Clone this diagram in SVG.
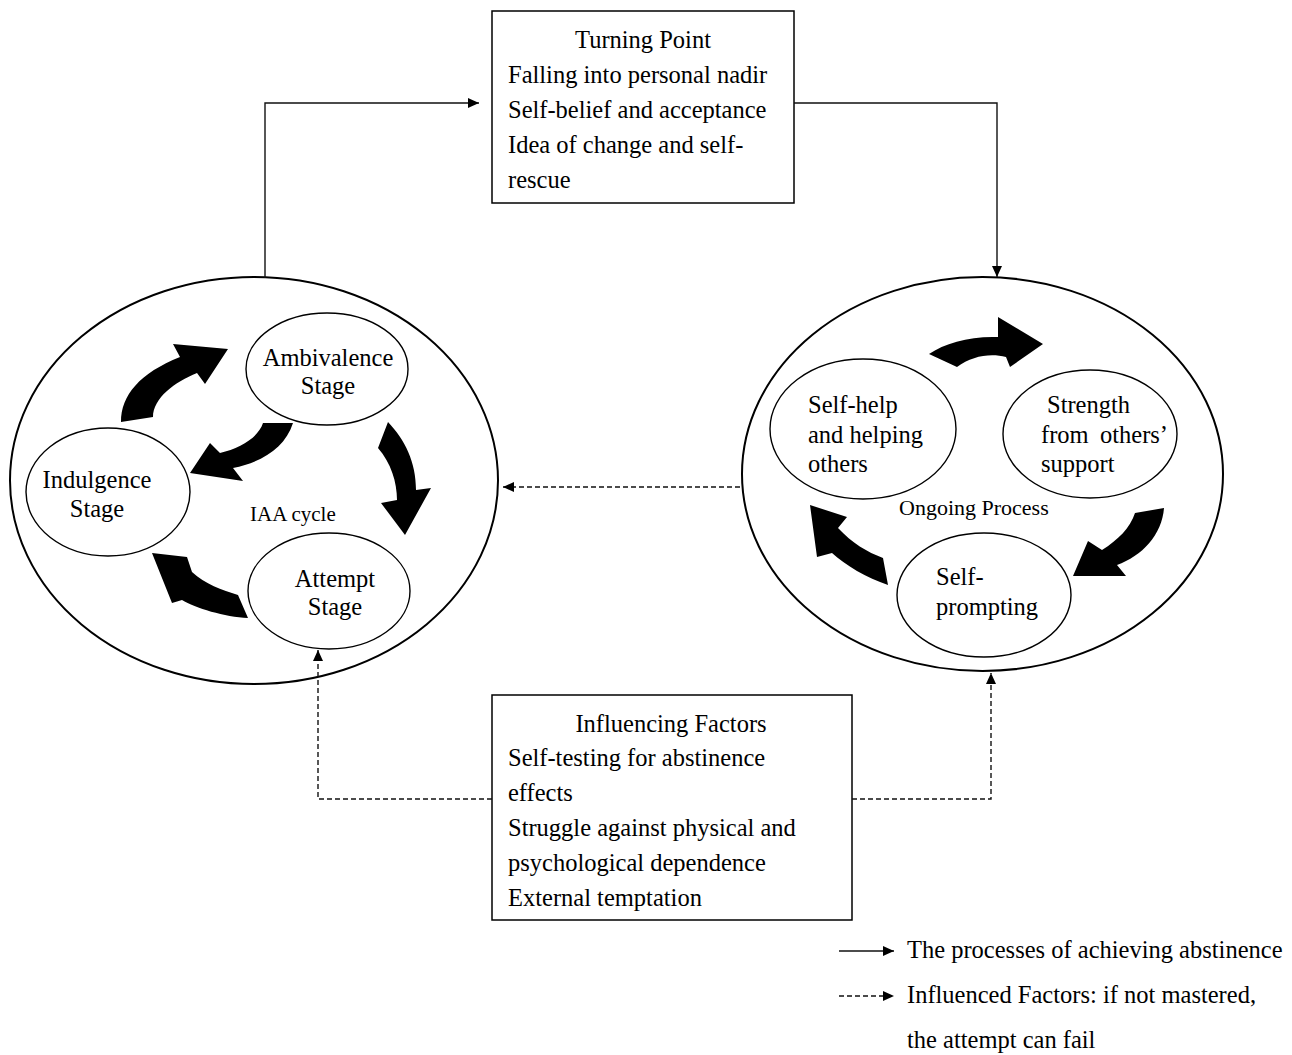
<svg xmlns="http://www.w3.org/2000/svg" width="1292" height="1055" viewBox="0 0 1292 1055">
<style>
text{font-family:"Liberation Serif","Times New Roman",serif;font-size:24.5px;fill:#000}
.sm{font-size:21px}
.sm2{font-size:22px}
.big{fill:none;stroke:#000;stroke-width:2}
.node{fill:#fff;stroke:#000;stroke-width:1.4}
.box{fill:#fff;stroke:#000;stroke-width:1.5}
.solid{fill:none;stroke:#111;stroke-width:1.4}
.dash{fill:none;stroke:#111;stroke-width:1.4;stroke-dasharray:5 3}
.thick{fill:#000;stroke:none}
</style>
<defs>
<marker id="ah" viewBox="0 0 11 10" refX="11" refY="5" markerWidth="11" markerHeight="10" markerUnits="userSpaceOnUse" orient="auto">
<path d="M0,0 L11,5 L0,10 Z" fill="#000"/>
</marker>
</defs>
<rect width="1292" height="1055" fill="#fff"/>

<g id="iaa-cycle">
<ellipse class="big" cx="254" cy="480.5" rx="244" ry="203.5"/>
<text class="sm" x="250" y="521">IAA cycle</text>
</g>
<g id="ambivalence">
<ellipse class="node" cx="327" cy="369" rx="81" ry="56"/>
<text x="328" y="366" text-anchor="middle">Ambivalence</text>
<text x="328" y="394" text-anchor="middle">Stage</text>
</g>
<g id="indulgence">
<ellipse class="node" cx="108" cy="492" rx="82" ry="64"/>
<text x="97" y="488" text-anchor="middle">Indulgence</text>
<text x="97" y="517" text-anchor="middle">Stage</text>
</g>
<g id="attempt">
<ellipse class="node" cx="329" cy="591" rx="81" ry="58"/>
<text x="335" y="587" text-anchor="middle">Attempt</text>
<text x="335" y="615" text-anchor="middle">Stage</text>
</g>

<g id="ongoing-process">
<ellipse class="big" cx="982.5" cy="474" rx="240.5" ry="197"/>
<text class="sm2" x="899" y="515">Ongoing Process</text>
</g>
<g id="self-help">
<ellipse class="node" cx="863" cy="429" rx="93" ry="70"/>
<text x="808" y="413">Self-help</text>
<text x="808" y="443">and helping</text>
<text x="808" y="472">others</text>
</g>
<g id="strength">
<ellipse class="node" cx="1090" cy="434" rx="87" ry="64"/>
<text x="1047" y="413">Strength</text>
<text x="1041" y="443">from</text>
<text x="1100" y="443">others’</text>
<text x="1041" y="472">support</text>
</g>
<g id="self-prompting">
<ellipse class="node" cx="984" cy="595" rx="87" ry="62"/>
<text x="936" y="585">Self-</text>
<text x="936" y="615">prompting</text>
</g>

<g id="turning-point">
<rect class="box" x="492" y="11" width="302" height="192"/>
<text x="643" y="48" text-anchor="middle">Turning Point</text>
<text x="508" y="83">Falling into personal nadir</text>
<text x="508" y="118">Self-belief and acceptance</text>
<text x="508" y="153">Idea of change and self-</text>
<text x="508" y="188">rescue</text>
</g>

<g id="influencing-factors">
<rect class="box" x="492" y="695" width="360" height="225"/>
<text x="671" y="732" text-anchor="middle">Influencing Factors</text>
<text x="508" y="766">Self-testing for abstinence</text>
<text x="508" y="801">effects</text>
<text x="508" y="836">Struggle against physical and</text>
<text x="508" y="871">psychological dependence</text>
<text x="508" y="906">External temptation</text>
</g>

<g id="cycle-arrows">
<path class="thick" d="M121,422 C121,395 140,373 180,357 L173,344 L228,349 L205,384 L197,373 C175,382 153,398 153,417 Z"/>
<path class="thick" d="M293,423 C285,448 262,462 233,468 L243,481 L190,473 L210,443 L220,453 C240,448 258,438 263,423 Z"/>
<path class="thick" d="M388,422 C405,440 416,462 416,490 L431,488 L405,535 L381,503 L397,500 C397,482 391,463 378,448 Z"/>
<path class="thick" d="M248,618 C225,617 195,608 182,600 L172,603 L152,553 L187,557 L192,572 C205,584 222,590 238,595 Z"/>
<path class="thick" d="M929,354 C945,343 970,336 998,337 L998,317 L1043,344 L1010,367 L1006,357 C990,353 972,356 957,367 Z"/>
<path class="thick" d="M1164,508 C1162,535 1142,556 1117,565 L1126,576 L1073,576 L1088,541 L1102,550 C1118,540 1130,528 1135,513 Z"/>
<path class="thick" d="M888,585 C867,578 845,565 832,553 L817,557 L810,505 L847,517 L838,528 C852,543 867,552 883,558 Z"/>
</g>

<g id="connectors">
<path class="solid" d="M265,278 V103 H479" marker-end="url(#ah)"/>
<path class="solid" d="M794,103 H997 V277" marker-end="url(#ah)"/>
<path class="dash" d="M740,487 H503" marker-end="url(#ah)"/>
<path class="dash" d="M492,799 H318 V650" marker-end="url(#ah)"/>
<path class="dash" d="M852,799 H991 V673" marker-end="url(#ah)"/>
</g>

<g id="legend">
<path class="solid" d="M839,951 H894" marker-end="url(#ah)"/>
<text x="907" y="958">The processes of achieving abstinence</text>
<path class="dash" d="M839,996 H894" marker-end="url(#ah)"/>
<text x="907" y="1003">Influenced Factors: if not mastered,</text>
<text x="907" y="1048">the attempt can fail</text>
</g>
</svg>
